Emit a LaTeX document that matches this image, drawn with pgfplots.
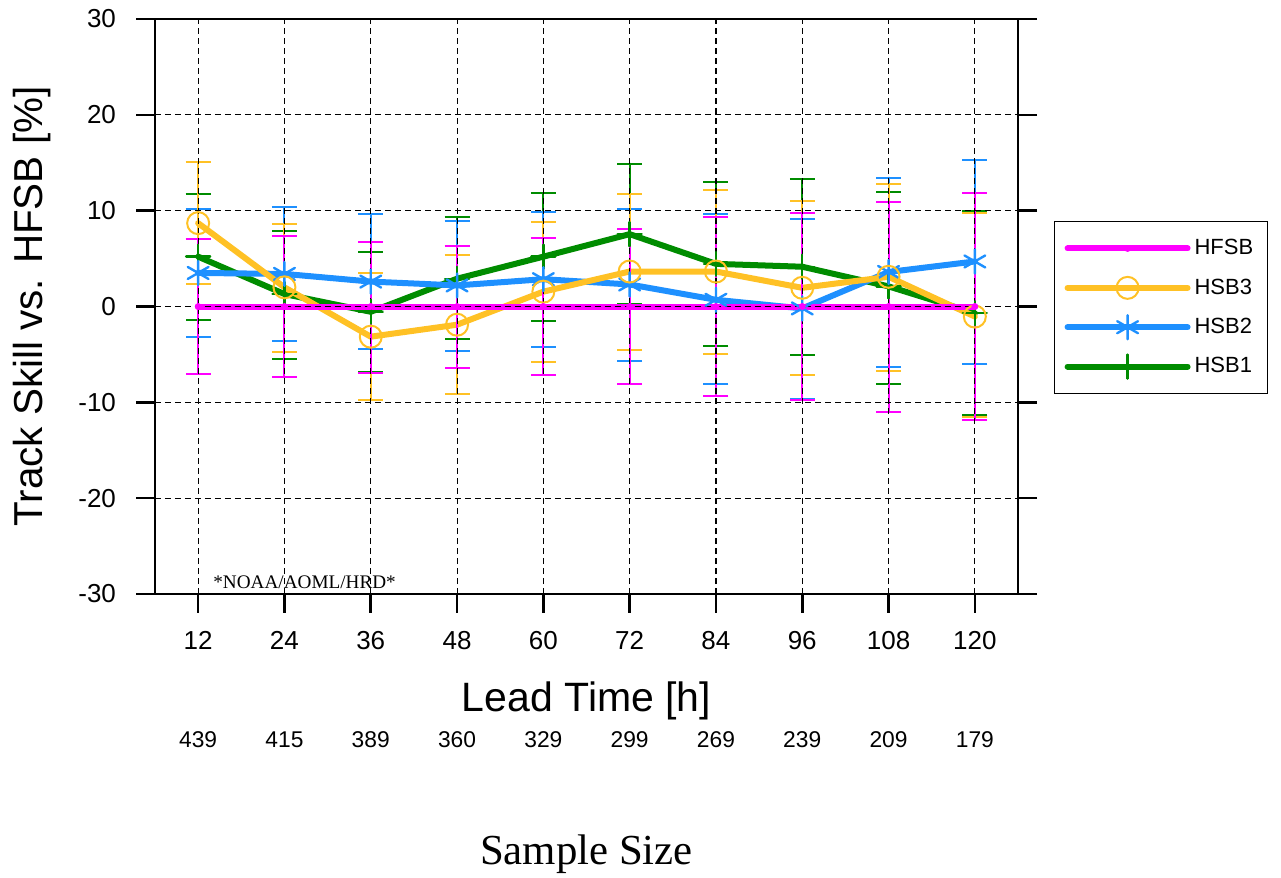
\documentclass[border=0pt]{standalone}
\usepackage{pgfplots}
\pgfplotsset{compat=1.18}
\usepackage{pgfplotstable}
\usepackage{fontspec}
\setmainfont{Liberation Sans}
\newfontfamily\serif{Liberation Serif}
\definecolor{cMag}{HTML}{FF00FF}
\definecolor{cGold}{HTML}{FFC125}
\definecolor{cBlue}{HTML}{1E90FF}
\definecolor{cGreen}{HTML}{008C00}

% x  y  ep  em
\pgfplotstableread{
x y ep em
12 5.2 6.5 6.6
24 1.3 6.55 6.75
36 -0.55 6.25 6.25
48 2.9 6.45 6.3
60 5.2 6.6 6.7
72 7.55 7.35 7.3
84 4.45 8.55 8.55
96 4.15 9.15 9.2
108 2.1 9.9 10.2
120 -0.7 10.65 10.6
}\hsbone
\pgfplotstableread{
x y ep em
12 3.5 6.7 6.7
24 3.4 6.95 7.0
36 2.6 7.05 7.0
48 2.2 6.7 6.8
60 2.85 7.05 7.1
72 2.3 7.9 8.0
84 0.7 8.95 8.75
96 -0.2 9.35 9.4
108 3.6 9.85 9.9
120 4.7 10.6 10.7
}\hsbtwo
\pgfplotstableread{
x y ep em
12 8.7 6.35 6.4
24 2.0 6.6 6.75
36 -3.15 6.65 6.6
48 -1.9 7.25 7.2
60 1.55 7.3 7.35
72 3.65 8.05 8.15
84 3.65 8.55 8.6
96 1.95 9.05 9.1
108 3.1 9.7 9.85
120 -1.05 10.85 10.5
}\hsbthree
\pgfplotstableread{
x y ep em
12 0 7.0 7.0
24 0 7.35 7.4
36 0 6.75 6.9
48 0 6.3 6.4
60 0 7.1 7.1
72 0 8.05 8.1
84 0 9.3 9.3
96 0 9.8 9.75
108 0 10.95 11.0
120 0 11.85 11.85
}\hfsb

\begin{document}
\begin{tikzpicture}
\useasboundingbox (-77.5pt,-142pt) rectangle (563pt,297pt);
\begin{axis}[
  at={(0,0)}, anchor=south west,
  width=431.5pt, height=287.5pt, scale only axis,
  clip=false,
  xmin=6, xmax=126, ymin=-30, ymax=30,
  xtick={12,24,...,120}, ytick={-30,-20,...,30},
  xtick pos=left,
  tick align=outside,
  major tick length=9.5pt,
  every tick/.style={black, line width=1.3pt},
  axis line style={line width=1.3pt},
  axis on top,
  grid=major,
  major grid style={black, line width=0.55pt, dash pattern=on 3pt off 2pt},
  /pgf/number format/assume math mode=true,
  tick label style={font=\fontsize{13}{15}\selectfont},
  yticklabel style={xshift=-6.5pt},
  xticklabel style={yshift=-5.5pt},
  xlabel={Lead Time [h]},
  xlabel style={at={(axis description cs:0.5,-0.2052)}, anchor=base, font=\fontsize{20.5}{24}\selectfont},
  ylabel={Track Skill vs. HFSB [\%]},
  ylabel style={at={(axis description cs:-0.1298,0.5)}, anchor=base, font=\fontsize{20.2}{24}\selectfont},
  legend image code/.code={\draw[mark repeat=2,mark phase=2,#1] plot coordinates {(0pt,0pt) (30pt,0pt) (60pt,0pt)};},
  reverse legend,
  legend style={at={(1.0417,0.6492)}, anchor=north west, draw=black, line width=0.6pt,
    font=\fontsize{11}{13}\selectfont, row sep=6.5pt, inner xsep=5pt, inner ysep=7pt,
    cells={anchor=west}},
  every axis plot/.append style={line width=3pt, line cap=round, line join=round},
  error bars/y dir=both, error bars/y explicit,
]
\addplot[cGreen, mark=+, mark size=6pt, mark options={line width=1.2pt},
  error bars/.cd, error bar style={line width=1pt, cGreen},
  error mark options={rotate=90, mark size=6.25pt, line width=1pt, cGreen}]
  table[x=x, y=y, y error plus=ep, y error minus=em] {\hsbone};
\addlegendentry{HSB1}
\addplot[cBlue, mark=asterisk, mark size=6pt, mark options={line width=1.2pt},
  error bars/.cd, error bar style={line width=1pt, cBlue},
  error mark options={rotate=90, mark size=6.25pt, line width=1pt, cBlue}]
  table[x=x, y=y, y error plus=ep, y error minus=em] {\hsbtwo};
\addlegendentry{HSB2}
\addplot[cGold, mark=o, mark size=5.5pt, mark options={line width=1pt},
  error bars/.cd, error bar style={line width=1pt, cGold},
  error mark options={rotate=90, mark size=6.25pt, line width=1pt, cGold}]
  table[x=x, y=y, y error plus=ep, y error minus=em] {\hsbthree};
\addlegendentry{HSB3}
\addplot[cMag, mark=*, mark size=1.5pt, mark options={line width=0.4pt},
  error bars/.cd, error bar style={line width=1pt, cMag},
  error mark options={rotate=90, mark size=6.25pt, line width=1pt, cMag}]
  table[x=x, y=y, y error plus=ep, y error minus=em] {\hfsb};
\addlegendentry{HFSB}

\node[anchor=base west, inner sep=0pt, font=\serif\fontsize{9.6}{11}\selectfont] at (axis description cs:0.0672,0.0104) {*NOAA/AOML/HRD*};
\node[anchor=base, font=\serif\fontsize{21.4}{25}\selectfont] at (axis description cs:0.5,-0.4713) {Sample Size};
\node[anchor=base, font=\fontsize{11.4}{13}\selectfont, yshift=-76.5pt] at (axis cs:12,-30) {439};
\node[anchor=base, font=\fontsize{11.4}{13}\selectfont, yshift=-76.5pt] at (axis cs:24,-30) {415};
\node[anchor=base, font=\fontsize{11.4}{13}\selectfont, yshift=-76.5pt] at (axis cs:36,-30) {389};
\node[anchor=base, font=\fontsize{11.4}{13}\selectfont, yshift=-76.5pt] at (axis cs:48,-30) {360};
\node[anchor=base, font=\fontsize{11.4}{13}\selectfont, yshift=-76.5pt] at (axis cs:60,-30) {329};
\node[anchor=base, font=\fontsize{11.4}{13}\selectfont, yshift=-76.5pt] at (axis cs:72,-30) {299};
\node[anchor=base, font=\fontsize{11.4}{13}\selectfont, yshift=-76.5pt] at (axis cs:84,-30) {269};
\node[anchor=base, font=\fontsize{11.4}{13}\selectfont, yshift=-76.5pt] at (axis cs:96,-30) {239};
\node[anchor=base, font=\fontsize{11.4}{13}\selectfont, yshift=-76.5pt] at (axis cs:108,-30) {209};
\node[anchor=base, font=\fontsize{11.4}{13}\selectfont, yshift=-76.5pt] at (axis cs:120,-30) {179};
\end{axis}
\end{tikzpicture}
\end{document}
